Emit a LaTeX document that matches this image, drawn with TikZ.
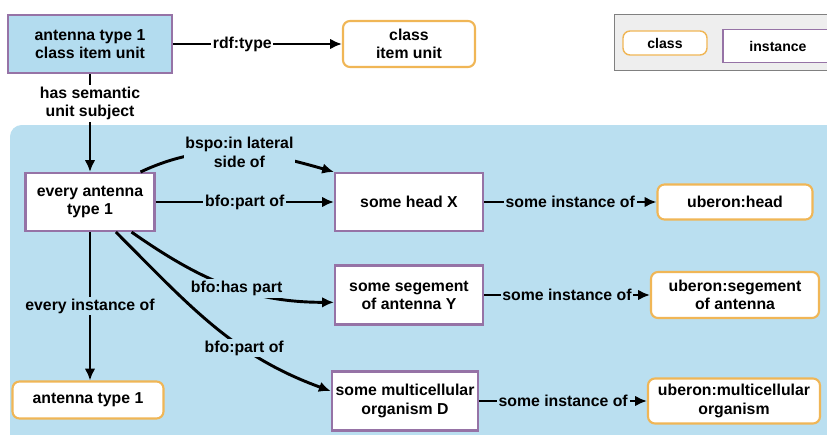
\documentclass[tikz,border=0pt]{standalone}
\usepackage{fontspec}
\setmainfont{Liberation Sans}
\usetikzlibrary{arrows.meta}
\definecolor{instline}{HTML}{9673A6}
\definecolor{clsline}{HTML}{F0B656}
\definecolor{panelblue}{HTML}{BADFF0}
\definecolor{boxblue}{HTML}{B3DCEF}
\definecolor{legendgray}{HTML}{EEEEEE}
\tikzset{
	txt/.style={align=center, font=\fontsize{13.5}{15.5}\selectfont\bfseries},
	inst/.style={txt, draw=instline, line width=1.8pt, fill=white},
	cls/.style={txt, draw=clsline, line width=1.8pt, fill=white, rounded corners=6pt},
	lbl/.style={txt, fill=panelblue, inner sep=1.5pt},
	wlbl/.style={lbl, fill=white},
	lnk/.style={line width=2.5pt},
	arr/.style={lnk, -{Latex[length=10pt,width=9pt]}}
}

\begin{document}
\begin{tikzpicture}[x=0.03cm, y=0.03cm]
			%%%%% START %%%%%
			\useasboundingbox (0, 0) rectangle (827, 434);
			\clip (0, 0) rectangle (827, 434);
			
			% panel and legend
			\fill[panelblue, rounded corners=0.35cm] (10, -20) rectangle (850, 309);
			\draw[fill=legendgray, draw=gray, line width=0.8pt] (614, 364) rectangle (840, 420);
			\node[cls, line width=1.2pt, font=\fontsize{12}{14}\selectfont\bfseries, minimum width=2.52cm, minimum height=0.72cm] (lgcls) at (665, 391) {class};
			\node[inst, line width=1.2pt, font=\fontsize{12}{14}\selectfont\bfseries, minimum width=3.3cm, minimum height=0.98cm] (lginst) at (778, 388) {instance};
			
			% class item unit
			\node[inst, fill=boxblue, minimum width=4.92cm, minimum height=1.74cm] (typeunit) at (90, 390) {antenna type 1\\class item unit};
			\node[cls, minimum width=3.96cm, minimum height=1.38cm] (itemunit) at (409, 390) {class\\item unit};
			
			% instances
			\node[inst, minimum width=3.87cm, minimum height=1.74cm] (every) at (90, 232) {every antenna\\type 1};
			\node[inst, minimum width=4.44cm, minimum height=1.74cm] (head) at (409, 232) {some head X};
			\node[inst, minimum width=4.44cm, minimum height=1.77cm] (seg) at (409, 139) {some segement\\of antenna Y};
			\node[inst, minimum width=4.32cm, minimum height=1.77cm] (multi) at (405, 33) {some multicellular\\organism D};
			
			% classes
			\node[cls, minimum width=4.65cm, minimum height=1.05cm] (headcls) at (735, 232) {uberon:head};
			\node[cls, minimum width=5.04cm, minimum height=1.38cm] (segcls) at (735, 139) {uberon:segement\\of antenna};
			\node[cls, minimum width=5.16cm, minimum height=1.35cm] (multicls) at (734, 33) {uberon:multicellular\\organism};
			\node[cls, minimum width=4.53cm, minimum height=1.11cm] (antcls) at (88, 34) {antenna type 1};
			
			% links
			\draw[arr] (typeunit) -- node[wlbl, pos=0.41] {rdf:type} (itemunit);
			\draw[arr] (typeunit) -- node[wlbl, pos=0.3] {has semantic\\unit subject} (every);
			\draw[arr] (every) -- node[lbl] {bfo:part of} (head);
			\draw[arr] ([xshift=-.45cm]every.north east) to[out=25, in=164] node[lbl, pos=0.52] {bspo:in lateral\\side of} (head.north west);
			\draw[arr] ([xshift=-.72cm]every.south east) to[out=-35, in=180] node[lbl, pos=0.55] {bfo:has part} ([yshift=-.22cm]seg.west);
			\draw[arr] ([xshift=-1.19cm]every.south east) to[out=-45, in=160] node[lbl, pos=0.65] {bfo:part of} ([yshift=.3cm]multi.west);
			\draw[arr] (every.south) -- node[lbl] {every instance of} (every.south |- antcls.north);
			
			\draw[arr] (head) -- node[lbl] {some instance of} (headcls);
			\draw[arr] (seg) -- node[lbl] {some instance of} (segcls);
			\draw[arr] (multi) -- node[lbl] {some instance of} (multicls);
			
			%%%%% END %%%%%
\end{tikzpicture}
\end{document}
